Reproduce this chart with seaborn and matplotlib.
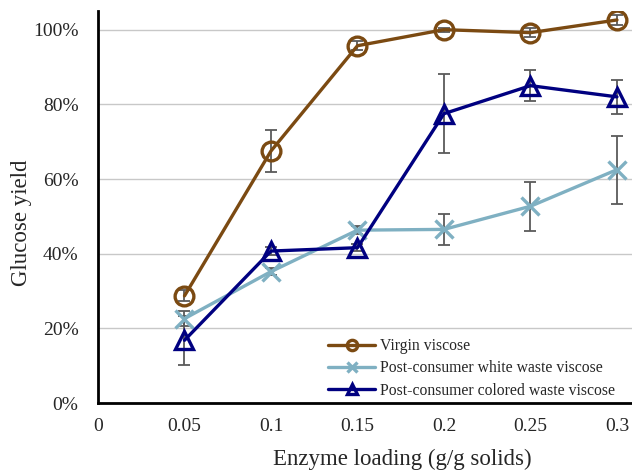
import numpy as np
import pandas as pd
import matplotlib
matplotlib.use("Agg")
import matplotlib.pyplot as plt
import seaborn as sns
from matplotlib.ticker import PercentFormatter

loading = [0.05, 0.10, 0.15, 0.20, 0.25, 0.30]
series_names = ["Virgin viscose",
                "Post-consumer white waste viscose",
                "Post-consumer colored waste viscose"]
virgin = [28.7, 67.5, 95.7, 100.0, 99.2, 102.6]
white = [22.6, 35.2, 46.3, 46.5, 52.7, 62.5]
colored = [16.8, 40.7, 41.6, 77.5, 85.0, 82.0]
virgin_err = [1.5, 5.5, 1.2, 0.5, 1.2, 1.4]
white_err = [2.0, 1.0, 1.0, 4.2, 6.5, 9.1]
colored_err = [6.5, 1.0, 1.0, 10.5, 4.2, 4.6]

colors = ["#7B4A12", "#7FB0C2", "#000080"]
markers = ["o", "x", "^"]

sns.set_style("white")
plt.rcParams["font.family"] = ["Liberation Serif", "DejaVu Serif"]

fig = plt.figure(figsize=(6.32, 4.73), dpi=100)
ax = fig.add_axes([98 / 632, 70 / 473, 534 / 632, 392 / 473])

all_vals = [virgin, white, colored]
all_errs = [virgin_err, white_err, colored_err]

for vals, errs in zip(all_vals, all_errs):
    ax.errorbar(loading, [v / 100 for v in vals], yerr=[e / 100 for e in errs],
                fmt="none", ecolor="#5A5A5A", elinewidth=1.3, capsize=4.5,
                capthick=1.3, zorder=2)

for name, vals, c, m in zip(series_names, all_vals, colors, markers):
    d = pd.DataFrame({"Enzyme loading": loading,
                      "Glucose yield": [v / 100 for v in vals]})
    sns.lineplot(data=d, x="Enzyme loading", y="Glucose yield", color=c,
                 marker=m, markersize=13.5, markeredgewidth=2.4,
                 markeredgecolor=c, markerfacecolor="none", linewidth=2.4,
                 label=name, ax=ax, zorder=3)

ax.set_xlim(0, 0.3087)
ax.set_ylim(0, 1.05)
ax.set_xticks([0, 0.05, 0.1, 0.15, 0.2, 0.25, 0.3])
ax.set_xticklabels(["0", "0.05", "0.1", "0.15", "0.2", "0.25", "0.3"])
ax.set_yticks([0, 0.2, 0.4, 0.6, 0.8, 1.0])
ax.yaxis.set_major_formatter(PercentFormatter(1.0, decimals=0))
ax.tick_params(axis="both", labelsize=14, length=0, pad=14)
ax.tick_params(axis="x", pad=11)
ax.grid(axis="y", color="#C8C8C8", linewidth=1.0)
ax.set_axisbelow(True)
for s in ["top", "right"]:
    ax.spines[s].set_visible(False)
for s in ["left", "bottom"]:
    ax.spines[s].set_color("black")
    ax.spines[s].set_linewidth(2.0)
    ax.spines[s].set_zorder(6)

ax.set_xlabel("Enzyme loading (g/g solids)", fontsize=16.5)
ax.xaxis.set_label_coords(0.569, -0.118)
ax.set_ylabel("Glucose yield", fontsize=16.5)
ax.yaxis.set_label_coords(-0.124, 0.459)

handles, labels = ax.get_legend_handles_labels()
leg = ax.legend(handles, labels, loc="lower left", bbox_to_anchor=(0.430, 0.009),
                borderaxespad=0, fontsize=11.3, frameon=True, framealpha=1,
                edgecolor="white", markerscale=0.55, handlelength=3.0,
                handletextpad=0.3, borderpad=0.05, labelspacing=0.4,
                fancybox=False)
leg.get_frame().set_linewidth(0)

fig.savefig("out.png", dpi=100)
